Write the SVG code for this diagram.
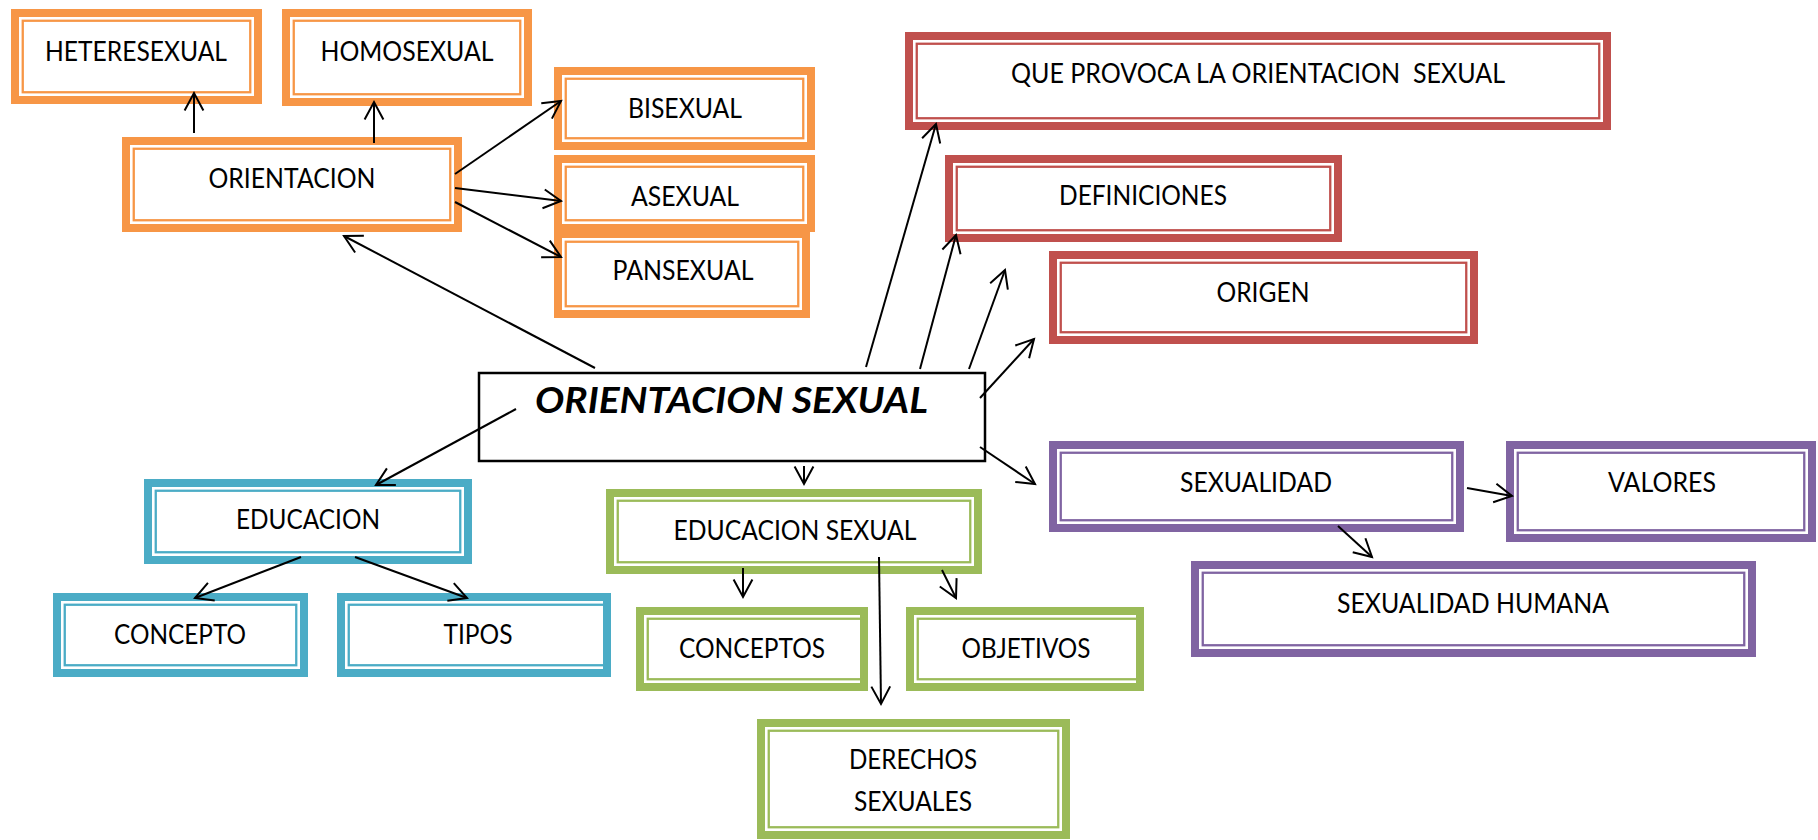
<svg xmlns="http://www.w3.org/2000/svg" width="1818" height="840" viewBox="0 0 1818 840">
<style>
.band{fill:#fff;stroke-width:8}
.thin{fill:none;stroke-width:2.3}
.or .band,.or .thin{stroke:#F79646}
.rd .band,.rd .thin{stroke:#C0504D}
.pu .band,.pu .thin{stroke:#8064A2}
.bl .band,.bl .thin{stroke:#4BACC6}
.gr .band,.gr .thin{stroke:#9BBB59}
text{font-family:Lato,"Open Sans","Liberation Sans",sans-serif;font-size:26px;fill:#000;text-anchor:middle;white-space:pre}
.title{font-size:37px;font-weight:bold;font-style:italic}
.conn line{stroke:#000;stroke-width:2;marker-end:url(#arr)}
</style>
<defs>
<marker id="arr" markerUnits="userSpaceOnUse" markerWidth="40" markerHeight="40" viewBox="-20 -20 40 40" refX="0" refY="0" orient="auto" overflow="visible">
<path d="M-17.5,-9.4 L0,0 L-17.5,9.4" fill="none" stroke="#000" stroke-width="2"/>
</marker>
</defs>
<rect width="1818" height="840" fill="#fff"/>

<g id="heteresexual" class="or"><rect class="band" x="15" y="13" width="243" height="87"/><rect class="thin" x="22.75" y="20.75" width="227.5" height="71.5"/><text x="136" y="61" textLength="182" lengthAdjust="spacingAndGlyphs">HETERESEXUAL</text></g>
<g id="homosexual" class="or"><rect class="band" x="286" y="13" width="242" height="89"/><rect class="thin" x="293.75" y="20.75" width="226.5" height="73.5"/><text x="407" y="61" textLength="173" lengthAdjust="spacingAndGlyphs">HOMOSEXUAL</text></g>
<g id="orientacion" class="or"><rect class="band" x="126" y="141" width="332" height="87"/><rect class="thin" x="133.75" y="148.75" width="316.5" height="71.5"/><text x="292" y="188" textLength="167" lengthAdjust="spacingAndGlyphs">ORIENTACION</text></g>
<g id="bisexual" class="or"><rect class="band" x="558" y="71" width="253" height="75"/><rect class="thin" x="565.75" y="78.75" width="237.5" height="59.5"/><text x="685" y="118" textLength="114" lengthAdjust="spacingAndGlyphs">BISEXUAL</text></g>
<g id="pansexual" class="or"><rect class="band" x="558" y="234" width="248" height="80"/><rect class="thin" x="565.75" y="241.75" width="232.5" height="64.5"/><text x="683" y="280" textLength="141" lengthAdjust="spacingAndGlyphs">PANSEXUAL</text></g>
<g id="asexual" class="or"><rect class="band" x="558" y="159" width="253" height="69"/><rect class="thin" x="565.75" y="166.75" width="237.5" height="53.5"/><text x="685" y="206" textLength="108" lengthAdjust="spacingAndGlyphs">ASEXUAL</text></g>

<g id="que-provoca" class="rd"><rect class="band" x="909" y="36" width="698" height="90"/><rect class="thin" x="916.75" y="43.75" width="682.5" height="74.5"/><text x="1258" y="83" textLength="494" lengthAdjust="spacingAndGlyphs">QUE PROVOCA LA ORIENTACION  SEXUAL</text></g>
<g id="definiciones" class="rd"><rect class="band" x="949" y="159" width="389" height="79"/><rect class="thin" x="956.75" y="166.75" width="373.5" height="63.5"/><text x="1143" y="205" textLength="168" lengthAdjust="spacingAndGlyphs">DEFINICIONES</text></g>
<g id="origen" class="rd"><rect class="band" x="1053" y="255" width="421" height="85"/><rect class="thin" x="1060.75" y="262.75" width="405.5" height="69.5"/><text x="1263" y="302" textLength="93" lengthAdjust="spacingAndGlyphs">ORIGEN</text></g>

<g id="sexualidad" class="pu"><rect class="band" x="1053" y="445" width="407" height="83"/><rect class="thin" x="1060.75" y="452.75" width="391.5" height="67.5"/><text x="1256" y="492" textLength="152" lengthAdjust="spacingAndGlyphs">SEXUALIDAD</text></g>
<g id="valores" class="pu"><rect class="band" x="1510" y="445" width="302" height="93"/><rect class="thin" x="1517.75" y="452.75" width="286.5" height="77.5"/><text x="1662" y="492" textLength="108" lengthAdjust="spacingAndGlyphs">VALORES</text></g>
<g id="sexualidad-humana" class="pu"><rect class="band" x="1195" y="565" width="557" height="88"/><rect class="thin" x="1202.75" y="572.75" width="541.5" height="72.5"/><text x="1473" y="613" textLength="272" lengthAdjust="spacingAndGlyphs">SEXUALIDAD HUMANA</text></g>

<g id="educacion" class="bl"><rect class="band" x="148" y="483" width="320" height="77"/><rect class="thin" x="155.75" y="490.75" width="304.5" height="61.5"/><text x="308" y="529" textLength="144" lengthAdjust="spacingAndGlyphs">EDUCACION</text></g>
<g id="concepto" class="bl"><rect class="band" x="57" y="597" width="247" height="76"/><rect class="thin" x="64.75" y="604.75" width="231.5" height="60.5"/><text x="180" y="644" textLength="132" lengthAdjust="spacingAndGlyphs">CONCEPTO</text></g>
<g id="tipos" class="bl"><rect class="band" x="341" y="597" width="266" height="76"/><rect class="thin" x="348.75" y="604.75" width="258.5" height="60.5"/><text x="478" y="644" textLength="69" lengthAdjust="spacingAndGlyphs">TIPOS</text></g>

<g id="educacion-sexual" class="gr"><rect class="band" x="610" y="493" width="368" height="77"/><rect class="thin" x="617.75" y="500.75" width="352.5" height="61.5"/><text x="795" y="540" textLength="243" lengthAdjust="spacingAndGlyphs">EDUCACION SEXUAL</text></g>
<g id="conceptos" class="gr"><rect class="band" x="640" y="611" width="224" height="76"/><rect class="thin" x="647.75" y="618.75" width="216.5" height="60.5"/><text x="752" y="658" textLength="146" lengthAdjust="spacingAndGlyphs">CONCEPTOS</text></g>
<g id="objetivos" class="gr"><rect class="band" x="910" y="611" width="230" height="76"/><rect class="thin" x="917.75" y="618.75" width="222.5" height="60.5"/><text x="1026" y="658" textLength="129" lengthAdjust="spacingAndGlyphs">OBJETIVOS</text></g>
<g id="derechos-sexuales" class="gr"><rect class="band" x="761" y="723" width="305" height="112"/><rect class="thin" x="768.75" y="730.75" width="289.5" height="96.5"/><text x="913" y="769" textLength="128" lengthAdjust="spacingAndGlyphs">DERECHOS</text><text x="913" y="811" textLength="118" lengthAdjust="spacingAndGlyphs">SEXUALES</text></g>

<g id="orientacion-sexual"><rect x="479" y="373" width="506" height="88" fill="#fff" stroke="#000" stroke-width="2.5"/><text class="title" x="731.5" y="413" textLength="393" lengthAdjust="spacingAndGlyphs">ORIENTACION SEXUAL</text></g>

<g id="connectors" class="conn">
<line x1="194" y1="133" x2="194" y2="93"/>
<line x1="374" y1="143" x2="374" y2="102"/>
<line x1="455" y1="174" x2="561" y2="101"/>
<line x1="455" y1="188" x2="561" y2="201"/>
<line x1="455" y1="202" x2="561" y2="257"/>
<line x1="595" y1="368" x2="344" y2="236"/>
<line x1="866" y1="367" x2="936" y2="124"/>
<line x1="920" y1="369" x2="956" y2="235"/>
<line x1="969" y1="369" x2="1005" y2="270"/>
<line x1="980" y1="398" x2="1034" y2="339"/>
<line x1="980" y1="447" x2="1035" y2="484"/>
<line x1="804" y1="466" x2="804" y2="484"/>
<line x1="516" y1="409" x2="376" y2="485"/>
<line x1="301" y1="557" x2="195" y2="598"/>
<line x1="355" y1="557" x2="467" y2="598"/>
<line x1="743" y1="568" x2="743" y2="597"/>
<line x1="942" y1="570" x2="956" y2="598"/>
<line x1="879" y1="557" x2="881" y2="704"/>
<line x1="1467" y1="488" x2="1512" y2="496"/>
<line x1="1338" y1="526" x2="1372" y2="557"/>
</g>
</svg>
